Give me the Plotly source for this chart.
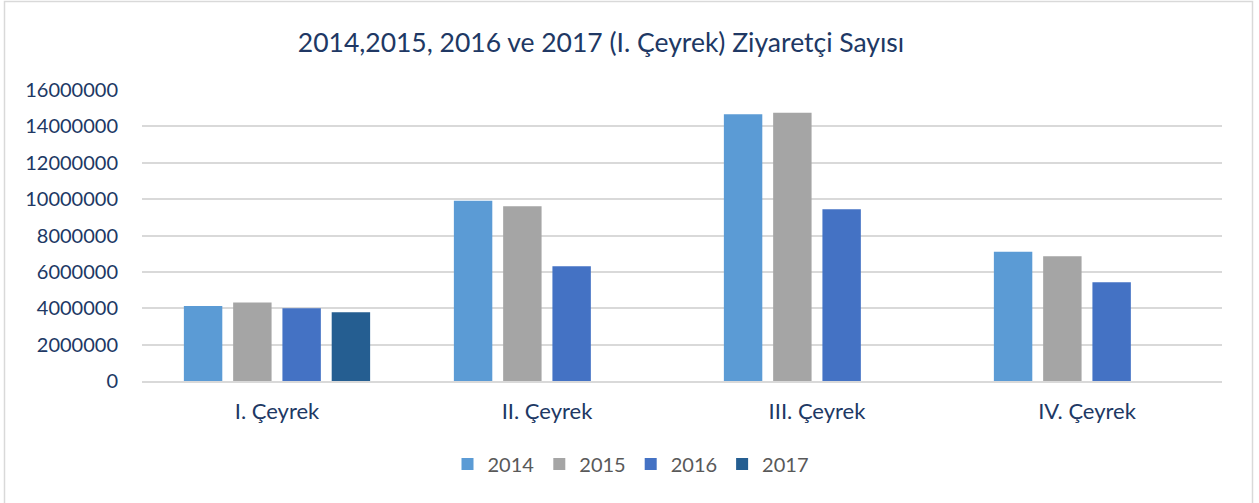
import plotly.graph_objects as go

categories = ["I. Çeyrek", "II. Çeyrek", "III. Çeyrek", "IV. Çeyrek"]
v2014 = [4130000, 9910000, 14660000, 7100000]
v2015 = [4310000, 9610000, 14750000, 6860000]
v2016 = [4000000, 6310000, 9450000, 5430000]
v2017 = [3780000, None, None, None]

series = [("2014", v2014, "#5B9BD5"), ("2015", v2015, "#A5A5A5"),
          ("2016", v2016, "#4472C4"), ("2017", v2017, "#255E91")]

W, H = 1259, 503
L, R, T, B = 142, 37, 90, 122
pw, ph = W - L - R, H - T - B

fig = go.Figure()
for name, vals, col in series:
    fig.add_trace(go.Bar(name=name, x=categories, y=vals, marker_color=col,
                         marker_line_width=0))

def px_x(x):
    return (x - L) / pw

def px_y(y):
    return (H - B - y) / ph

fig.update_layout(
    width=W, height=H,
    margin=dict(l=L, r=R, t=T, b=B),
    paper_bgcolor="white", plot_bgcolor="white",
    barmode="group", bargap=0.27, bargroupgap=0.22,
    font=dict(family="Lato", color="#203864"),
    title=dict(text="2014,2015, 2016 ve 2017 (I. Çeyrek) Ziyaretçi Sayısı",
               x=px_x(601), xref="paper", xanchor="center",
               y=1 - 43 / H, yanchor="middle",
               font=dict(size=26.5, color="#203864")),
    legend=dict(orientation="h", x=px_x(631), xanchor="center",
                y=px_y(464), yanchor="middle",
                font=dict(size=20, color="#595959"),
                itemwidth=30, tracegroupgap=0),
    showlegend=True,
    shapes=[dict(type="rect", xref="paper", yref="paper",
                 x0=px_x(4.5), x1=px_x(1252.5), y0=px_y(505), y1=px_y(1.5),
                 line=dict(color="#D9D9D9", width=1.5), layer="below")],
)
fig.update_xaxes(showgrid=False, showline=True, linecolor="#D9D9D9", linewidth=1.5,
                 tickfont=dict(size=22, color="#203864"), ticks="outside",
                 ticklen=10, tickcolor="rgba(0,0,0,0)")
fig.update_yaxes(range=[0, 16000000], dtick=2000000, tickformat="d",
                 showgrid=True, gridcolor="#D9D9D9", gridwidth=1.5,
                 zeroline=False, showline=False,
                 tickfont=dict(size=20, color="#203864"), ticks="outside",
                 ticklen=19, tickcolor="rgba(0,0,0,0)")

fig.write_html("out.html", config={"displayModeBar": False},
               post_script="document.body.style.margin='0';document.body.style.overflow='hidden';")
